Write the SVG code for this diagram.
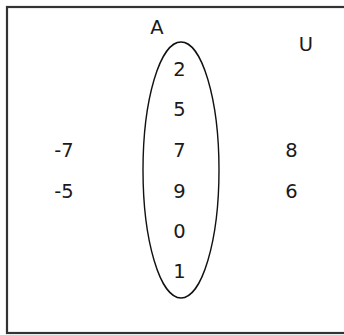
<svg xmlns="http://www.w3.org/2000/svg" width="344" height="335" viewBox="0 0 344 335">
<style>
.t{font-family:"DejaVu Sans","Liberation Sans",sans-serif;font-size:19.5px;fill:#1a1a1a;text-anchor:middle}
.box{fill:none;stroke:#333;stroke-width:2.2}
.set{fill:none;stroke:#111;stroke-width:1.4}
</style>
<rect width="344" height="335" fill="#fff"/>
<g id="universe">
<rect class="box" x="7" y="7" width="345" height="326"/>
<text class="t" x="306" y="51">U</text>
</g>
<g id="setA">
<ellipse class="set" cx="181" cy="170" rx="38" ry="128"/>
<text class="t" x="157" y="34">A</text>
</g>
<g id="elements">
<text class="t" x="179.5" y="76">2</text>
<text class="t" x="179.5" y="116">5</text>
<text class="t" x="179.5" y="157">7</text>
<text class="t" x="179.5" y="198">9</text>
<text class="t" x="179.5" y="238">0</text>
<text class="t" x="179.5" y="278">1</text>
<text class="t" x="64" y="157">-7</text>
<text class="t" x="64" y="198">-5</text>
<text class="t" x="291.5" y="157">8</text>
<text class="t" x="291.5" y="198">6</text>
</g>
</svg>
